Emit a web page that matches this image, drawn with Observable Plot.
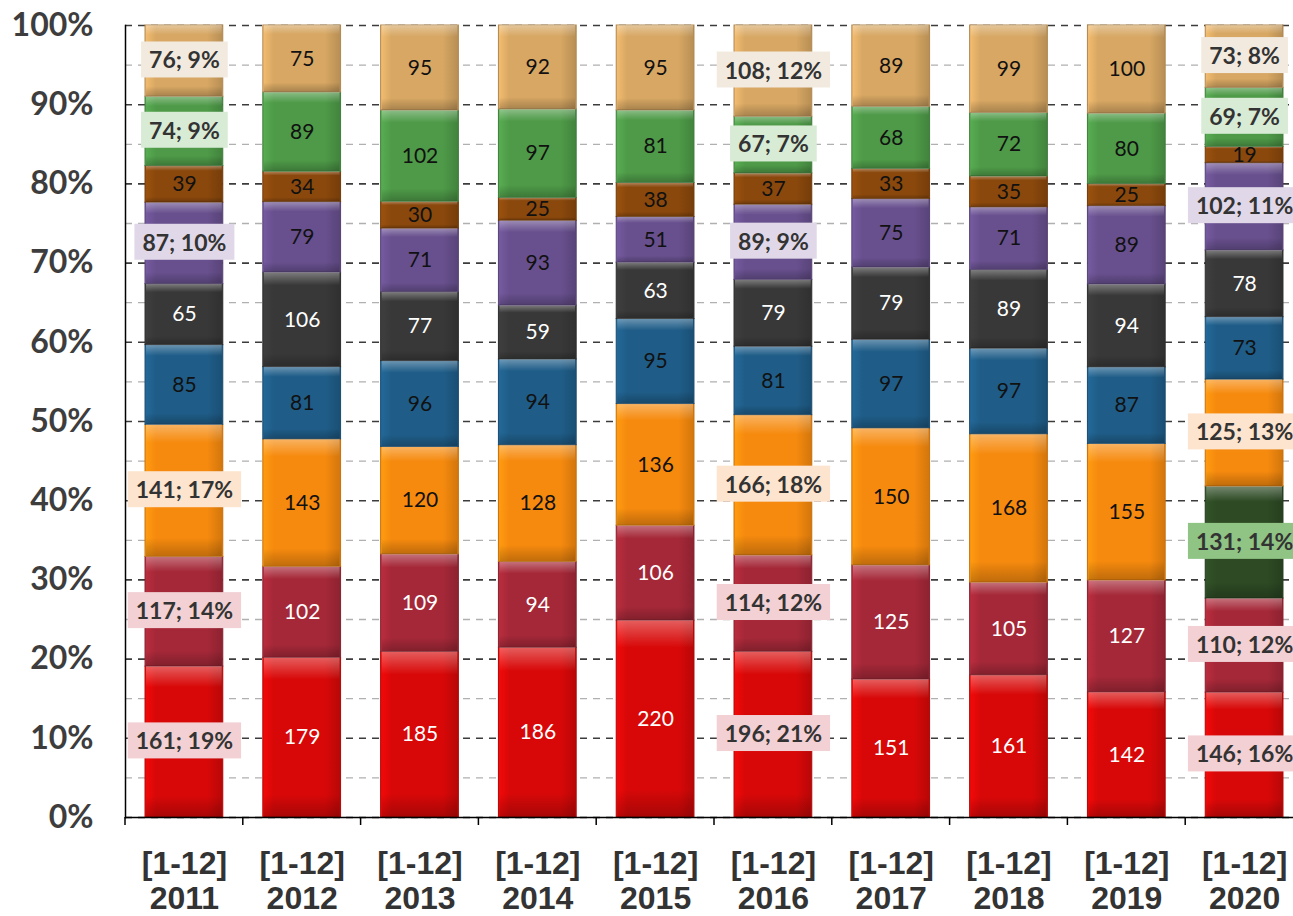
<!DOCTYPE html>
<html><head><meta charset="utf-8">
<script src="https://cdn.jsdelivr.net/npm/d3@7"></script>
<script src="https://cdn.jsdelivr.net/npm/@observablehq/plot@0.6"></script>
<style>
html,body{margin:0;padding:0;background:#fff;overflow:hidden;}
#chart svg{display:block;}
</style></head><body><div id="chart"></div>
<script>
// ---- data ----
const years = ["2011","2012","2013","2014","2015","2016","2017","2018","2019","2020"];
const periodLabel = "[1-12]";
const seriesNames = ["red","crimson","darkgreen","orange","blue","black","purple","brown","green","tan"];
const seriesColors = ["#d80808","#a52838","#2d4a24","#f68a0e","#1f5d88","#383838","#68508e","#8a480c","#4e9a48","#d7a763"];
const boxColors   = ["#f2d0d4","#f2d0d4","#8fc484","#fde4cf","#d6e4ee","#dddddd","#e0d8e8","#ecd9c6","#d8ebd5","#f2eadf"];
const red       = [161,179,185,186,220,196,151,161,142,146];
const crimson   = [117,102,109, 94,106,114,125,105,127,110];
const darkgreen = [  0,  0,  0,  0,  0,  0,  0,  0,  0,131];
const orange    = [141,143,120,128,136,166,150,168,155,125];
const blue      = [ 85, 81, 96, 94, 95, 81, 97, 97, 87, 73];
const black     = [ 65,106, 77, 59, 63, 79, 79, 89, 94, 78];
const purple    = [ 87, 79, 71, 93, 51, 89, 75, 71, 89,102];
const brown     = [ 39, 34, 30, 25, 38, 37, 33, 35, 25, 19];
const green     = [ 74, 89,102, 97, 81, 67, 68, 72, 80, 69];
const tan       = [ 76, 75, 95, 92, 95,108, 89, 99,100, 73];
const detailYears = ["2011","2016","2020"];
const detailSeries = ["red","crimson","darkgreen","orange","purple","green","tan"];
const whiteTextSeries = ["red","crimson","black"];
const yTicks = [0,0.1,0.2,0.3,0.4,0.5,0.6,0.7,0.8,0.9,1];
const yMinorTicks = [0.05,0.15,0.25,0.35,0.45,0.55,0.65,0.75,0.85,0.95];

// ---- table ----
const valuesBySeries = {red, crimson, darkgreen, orange, blue, black, purple, brown, green, tan};
const rows = years.flatMap((year, i) => seriesNames.map(s => ({year, series: s, value: valuesBySeries[s][i]})))
  .filter(d => d.value > 0);
const totals = {};
rows.forEach(d => totals[d.year] = (totals[d.year] || 0) + d.value);
const isDetail = d => detailYears.includes(d.year) && detailSeries.includes(d.series);
const colorOf = s => seriesColors[seriesNames.indexOf(s)];
const stackOpts = {offset: "normalize", order: seriesNames};
const boxText = d => `${d.value}; ${Math.round(d.value / totals[d.year] * 100)}%`;

const plot = Plot.plot({
  width: 1293, height: 916,
  marginLeft: 125, marginRight: -10, marginTop: 25, marginBottom: 99,
  style: {fontFamily: "Lato, sans-serif", background: "#fff", overflow: "visible"},
  x: {domain: years, paddingInner: 0.34, paddingOuter: 0.17, round: false, label: null},
  y: {domain: [0, 1], label: null},
  color: {type: "identity"},
  marks: [
    Plot.gridY(yMinorTicks, {stroke: "#b0b0b0", strokeOpacity: 1, strokeDasharray: "7,6", strokeWidth: 1.3}),
    Plot.gridY(yTicks, {stroke: "#3c3c3c", strokeOpacity: 1, strokeDasharray: "7,6", strokeWidth: 1.6}),
    Plot.barY(rows, Plot.stackY(stackOpts, {
      x: "year", y: "value", z: "series",
      fill: d => `url(#base-${d.series})`,
      stroke: d => d3.color(colorOf(d.series)).darker(0.6).formatHex(), strokeWidth: 1
    })),
    Plot.barY(rows, Plot.stackY(stackOpts, {
      x: "year", y: "value", z: "series",
      fill: "url(#vshade)", insetLeft: 1, insetRight: 1
    })),
    Plot.frame({anchor: "left", stroke: "#000", strokeWidth: 1.5}),
    Plot.ruleY([0], {stroke: "#000", strokeWidth: 1.5}),
    Plot.axisY(yTicks, {tickFormat: d3.format(".0%"), tickSize: 0, tickPadding: 32,
      fontSize: 32, fontWeight: "bold", fill: "#3d3d3d", label: null}),
    Plot.axisX({tickSize: 0, tickPadding: 31, tickFormat: y => `${periodLabel}\n${y}`,
      fontSize: 32, fontWeight: "bold", fill: "#333", lineHeight: 1.1,
      fontFamily: "'Liberation Sans Narrow', 'Arial Narrow', sans-serif", label: null}),
    Plot.text(rows, Plot.stackY(stackOpts, {
      x: "year", y: "value", z: "series",
      text: d => isDetail(d) ? "" : String(d.value),
      fill: d => whiteTextSeries.includes(d.series) ? "#ffffff" : "#111111",
      fontSize: 21
    })),
    Plot.text(rows, Plot.stackY(stackOpts, {
      x: "year", y: "value", z: "series",
      text: d => isDetail(d) ? boxText(d) : "",
      fill: "#333333", fontSize: 23, fontWeight: "bold"
    }))
  ]
});
document.getElementById("chart").appendChild(plot);

// gradient defs
const svg = d3.select(plot);
const defs = svg.insert("defs", ":first-child");
seriesNames.forEach((s, i) => {
  const c = d3.color(seriesColors[i]);
  const g = defs.append("linearGradient").attr("id", `base-${s}`).attr("x1", 0).attr("x2", 1).attr("y1", 0).attr("y2", 0);
  g.append("stop").attr("offset", "0%").attr("stop-color", c.brighter(0.35).formatHex());
  g.append("stop").attr("offset", "14%").attr("stop-color", c.formatHex());
  g.append("stop").attr("offset", "80%").attr("stop-color", c.formatHex());
  g.append("stop").attr("offset", "100%").attr("stop-color", c.darker(0.45).formatHex());
});
const vs = defs.append("linearGradient").attr("id", "vshade").attr("x1", 0).attr("x2", 0).attr("y1", 0).attr("y2", 1);
[["0%", "#fff", 0.35], ["9%", "#fff", 0.12], ["14%", "#fff", 0], ["86%", "#000", 0], ["92%", "#000", 0.1], ["100%", "#000", 0.22]]
  .forEach(([o, c, a]) => vs.append("stop").attr("offset", o).attr("stop-color", c).attr("stop-opacity", a));

// label boxes: find the text mark group (last one with aria-label "text")
const textGroups = plot.querySelectorAll("g[aria-label='text']");
const boxGroup = textGroups[textGroups.length - 1];
boxGroup.querySelectorAll("text").forEach(el => {
  const content = el.textContent;
  if (!content) return;
  let d = rows[d3.select(el).datum()];
  if (!d || boxText(d) !== content) {
    d = rows.find(r => isDetail(r) && boxText(r) === content);
  }
  if (!d) return;
  const b = el.getBBox();
  const cy = b.y + b.height / 2;
  const r = document.createElementNS("http://www.w3.org/2000/svg", "rect");
  r.setAttribute("x", b.x - 8); r.setAttribute("y", cy - 18);
  r.setAttribute("width", b.width + 16); r.setAttribute("height", 36);
  r.setAttribute("fill", boxColors[seriesNames.indexOf(d.series)]);
  const tf = el.getAttribute("transform");
  if (tf) r.setAttribute("transform", tf);
  el.parentNode.insertBefore(r, el);
});

// band-edge ticks on x axis
const xs = plot.scale("x"), ys = plot.scale("y");
const y0 = ys.apply(0);
const gap = (xs.step - xs.bandwidth) / 2;
const edges = years.map(y => xs.apply(y) - gap).concat([xs.apply(years[years.length - 1]) + xs.bandwidth + gap]);
svg.append("g").selectAll("line").data(edges).join("line")
  .attr("x1", d => d).attr("x2", d => d).attr("y1", y0).attr("y2", y0 + 8)
  .attr("stroke", "#000").attr("stroke-width", 1.5);
</script></body></html>
